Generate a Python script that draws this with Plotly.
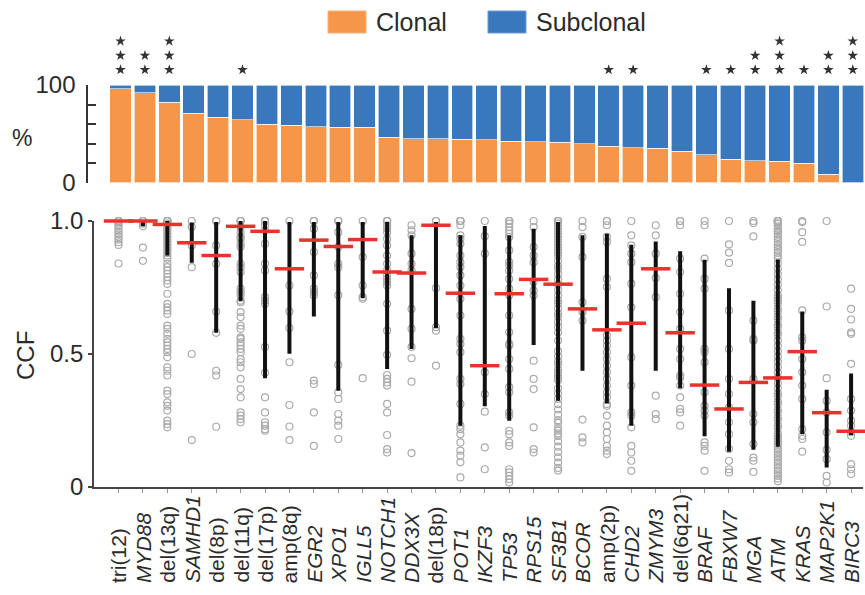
import plotly.graph_objects as go

# ---------------- data ----------------
categories = ["tri(12)", "MYD88", "del(13q)", "SAMHD1", "del(8p)", "del(11q)", "del(17p)",
              "amp(8q)", "EGR2", "XPO1", "IGLL5", "NOTCH1", "DDX3X", "del(18p)", "POT1",
              "IKZF3", "TP53", "RPS15", "SF3B1", "BCOR", "amp(2p)", "CHD2", "ZMYM3",
              "del(6q21)", "BRAF", "FBXW7", "MGA", "ATM", "KRAS", "MAP2K1", "BIRC3"]
is_gene = [False, True, False, True, False, False, False, False, True, True, True, True, True,
           False, True, True, True, True, True, True, False, True, True, False, True, True,
           True, True, True, True, True]
clonal_pct = [96, 92, 82.5, 71, 67, 64.6, 60, 58.6, 57, 56.6, 56.6, 46.5, 45, 45, 44.4,
              43.8, 42.4, 42, 41.4, 40, 37, 35.7, 35, 32, 28.6, 23.6, 22.2, 21.9, 19.9, 8.4, 0]
n_stars = [3, 2, 3, 0, 0, 1, 0, 0, 0, 0, 0, 0, 0, 0, 0, 0, 0, 0, 0, 0, 1, 1, 0, 0, 1, 1,
           2, 3, 1, 2, 3]

ccf_median = [1.0, 1.0, 0.987, 0.918, 0.87, 0.98, 0.961, 0.82, 0.928, 0.904, 0.93, 0.808,
              0.804, 0.984, 0.728, 0.455, 0.726, 0.78, 0.762, 0.669, 0.59, 0.615, 0.82,
              0.579, 0.382, 0.292, 0.392, 0.409, 0.508, 0.278, 0.208]
ccf_high = [1.0, 1.0, 1.0, 0.994, 0.996, 1.0, 1.0, 0.996, 0.996, 0.996, 0.996, 0.996, 0.946,
            0.996, 0.946, 0.981, 0.946, 0.971, 0.996, 0.946, 0.952, 0.911, 0.923, 0.886,
            0.854, 0.747, 0.70, 0.855, 0.659, 0.364, 0.426]
ccf_low = [1.0, 0.98, 0.87, 0.843, 0.579, 0.698, 0.408, 0.50, 0.64, 0.361, 0.709, 0.443,
           0.518, 0.596, 0.229, 0.302, 0.248, 0.533, 0.323, 0.436, 0.313, 0.229, 0.436,
           0.37, 0.189, 0.131, 0.138, 0.15, 0.197, 0.072, 0.194]

pts_tri12 = [1, 1, 1, 1, 1, 0.99, 0.98, 0.97, 0.96, 0.95, 0.94, 0.93, 0.92, 0.91, 0.84]
pts_myd88 = [1, 1, 1, 0.99, 0.98, 0.90, 0.85]
pts_del13q = [1, 1, 1, 1, 1, 1, 0.99, 0.98, 0.97, 0.96, 0.95, 0.94, 0.93, 0.92, 0.91, 0.90,
              0.89, 0.88, 0.87, 0.858, 0.839, 0.826, 0.814, 0.801, 0.789, 0.776, 0.763,
              0.726, 0.688, 0.675, 0.663, 0.65, 0.606, 0.594, 0.575, 0.556, 0.543, 0.531,
              0.518, 0.506, 0.487, 0.449, 0.436, 0.418, 0.361, 0.348, 0.317, 0.304, 0.286,
              0.248, 0.235, 0.223]
pts_samhd1 = [1.0, 0.977, 0.908, 0.826, 0.499, 0.175]
pts_del8p = [1.0, 1.0, 0.908, 0.839, 0.659, 0.579, 0.436, 0.418, 0.225]
pts_del11q = [1, 1, 1, 0.977, 0.958, 0.94, 0.933, 0.914, 0.902, 0.839, 0.826, 0.808, 0.745,
              0.732, 0.72, 0.70, 0.694, 0.657, 0.638, 0.606, 0.594, 0.562, 0.556, 0.543,
              0.531, 0.518, 0.506, 0.48, 0.468, 0.449, 0.405, 0.367, 0.336, 0.279, 0.267,
              0.254, 0.242]
pts_del17p = [1, 1, 1, 0.984, 0.965, 0.914, 0.839, 0.814, 0.713, 0.70, 0.688, 0.525, 0.428,
              0.336, 0.279, 0.242, 0.229, 0.216, 0.21]
pts_amp8q = [1.0, 0.757, 0.659, 0.597, 0.468, 0.307, 0.226, 0.175]
pts_egr2 = [1, 1, 0.971, 0.883, 0.795, 0.745, 0.732, 0.72, 0.399, 0.386, 0.279, 0.153]
pts_xpo1 = [1, 1, 0.958, 0.902, 0.839, 0.826, 0.72, 0.458, 0.355, 0.33, 0.273, 0.248, 0.229,
            0.179]
pts_igll5 = [1.0, 0.864, 0.757, 0.713, 0.707, 0.408]
pts_notch1 = [1, 1, 1, 0.984, 0.971, 0.958, 0.933, 0.908, 0.87, 0.839, 0.814, 0.795, 0.782,
              0.77, 0.757, 0.688, 0.587, 0.496, 0.42, 0.405, 0.392, 0.38, 0.311, 0.279, 0.194,
              0.141, 0.128]
pts_ddx3x = [0.984, 0.965, 0.946, 0.877, 0.839, 0.814, 0.669, 0.594, 0.525, 0.483, 0.395,
             0.126]
pts_del18p = [1, 1, 0.747, 0.60, 0.587, 0.455]
pts_pot1 = [1, 1, 1, 1, 0.984, 0.946, 0.933, 0.914, 0.87, 0.845, 0.826, 0.795, 0.757, 0.707,
            0.644, 0.556, 0.537, 0.506, 0.405, 0.386, 0.311, 0.229, 0.216, 0.197, 0.166,
            0.135, 0.116, 0.091, 0.034]
pts_ikzf3 = [1.0, 0.943, 0.877, 0.43, 0.348, 0.282, 0.147, 0.065]
pts_tp53 = [1, 1, 1, 0.99, 0.977, 0.965, 0.952, 0.94, 0.889, 0.845, 0.833, 0.814, 0.782,
            0.745, 0.72, 0.644, 0.581, 0.537, 0.531, 0.48, 0.443, 0.374, 0.355, 0.279, 0.267,
            0.21, 0.197, 0.166, 0.153, 0.065, 0.053, 0.04, 0.028, 0.015]
pts_rps15 = [1.0, 0.977, 0.902, 0.87, 0.845, 0.77, 0.738, 0.72, 0.474, 0.405, 0.367, 0.223,
             0.141, 0.128]
pts_sf3b1 = [1, 1, 1, 1, 0.99, 0.98, 0.97, 0.96, 0.95, 0.94, 0.93, 0.92, 0.91, 0.90, 0.89,
             0.88, 0.87, 0.85, 0.83, 0.82, 0.80, 0.78, 0.76, 0.74, 0.72, 0.70, 0.69, 0.67,
             0.65, 0.64, 0.62, 0.60, 0.58, 0.55, 0.51, 0.49, 0.47, 0.46, 0.44, 0.43, 0.42,
             0.41, 0.40, 0.37, 0.35, 0.33, 0.31, 0.29, 0.27, 0.25, 0.24, 0.22, 0.21, 0.20,
             0.19, 0.17, 0.15, 0.13, 0.11, 0.09, 0.07, 0.06]
pts_bcor = [1.0, 0.977, 0.94, 0.864, 0.694, 0.657, 0.625, 0.252, 0.185, 0.166]
pts_amp2p = [1, 1, 0.984, 0.94, 0.921, 0.782, 0.751, 0.569, 0.55, 0.531, 0.506, 0.48, 0.455,
             0.43, 0.405, 0.38, 0.355, 0.336, 0.311, 0.304, 0.267, 0.229, 0.204, 0.179, 0.153,
             0.135, 0.122]
pts_chd2 = [1.0, 0.946, 0.908, 0.877, 0.845, 0.764, 0.675, 0.487, 0.38, 0.279, 0.267, 0.223,
            0.153, 0.128, 0.097, 0.059]
pts_zmym3 = [0.984, 0.946, 0.877, 0.785, 0.713, 0.342, 0.273, 0.254]
pts_del6q21 = [1, 1, 0.984, 0.858, 0.808, 0.726, 0.657, 0.594, 0.518, 0.48, 0.418, 0.41,
               0.38, 0.336, 0.292, 0.279, 0.229]
pts_braf = [1.0, 0.984, 0.858, 0.782, 0.745, 0.518, 0.506, 0.468, 0.355, 0.304, 0.286, 0.267,
            0.166, 0.153, 0.135, 0.059]
pts_fbxw7 = [1.0, 0.912, 0.881, 0.842, 0.663, 0.518, 0.405, 0.348, 0.298, 0.242, 0.197,
             0.141, 0.097, 0.065, 0.053]
pts_mga = [1.0, 0.992, 0.942, 0.625, 0.556, 0.55, 0.405, 0.273, 0.242, 0.16, 0.109, 0.097,
           0.055]
pts_atm = [1, 1, 1, 1, 1, 0.99, 0.99, 0.98, 0.97, 0.96, 0.96, 0.95, 0.94, 0.93, 0.92, 0.91,
           0.90, 0.89, 0.88, 0.87, 0.86, 0.84, 0.82, 0.80, 0.78, 0.76, 0.74, 0.72, 0.71, 0.70,
           0.69, 0.67, 0.66, 0.64, 0.63, 0.61, 0.60, 0.58, 0.57, 0.55, 0.53, 0.51, 0.49, 0.47,
           0.45, 0.43, 0.41, 0.39, 0.37, 0.35, 0.34, 0.32, 0.31, 0.29, 0.28, 0.26, 0.25, 0.23,
           0.22, 0.20, 0.19, 0.18, 0.17, 0.16, 0.15, 0.14, 0.13, 0.12, 0.11, 0.10, 0.09, 0.08,
           0.07, 0.06, 0.05, 0.04, 0.03, 0.02]
pts_kras = [1.0, 0.996, 0.958, 0.921, 0.663, 0.562, 0.55, 0.48, 0.43, 0.38, 0.33, 0.216,
            0.191, 0.179, 0.131]
pts_map2k1 = [1.0, 0.678, 0.408, 0.323, 0.279, 0.204, 0.138, 0.103, 0.04, 0.015]
pts_birc3 = [0.745, 0.669, 0.629, 0.581, 0.575, 0.462, 0.33, 0.286, 0.248, 0.229, 0.204,
             0.191, 0.084, 0.065, 0.047]

ccf_points = [pts_tri12, pts_myd88, pts_del13q, pts_samhd1, pts_del8p, pts_del11q, pts_del17p,
              pts_amp8q, pts_egr2, pts_xpo1, pts_igll5, pts_notch1, pts_ddx3x, pts_del18p,
              pts_pot1, pts_ikzf3, pts_tp53, pts_rps15, pts_sf3b1, pts_bcor, pts_amp2p,
              pts_chd2, pts_zmym3, pts_del6q21, pts_braf, pts_fbxw7, pts_mga, pts_atm,
              pts_kras, pts_map2k1, pts_birc3]

# ---------------- styling ----------------
W, H = 865, 595
FONT = "Liberation Sans, Arial, Helvetica, sans-serif"
TXT = "#2b2b2b"
ORANGE = "#F5964A"
BLUE = "#3A78BD"
idx = list(range(len(categories)))

def py(px):  # pixel from top -> paper fraction
    return 1 - px / H

fig = go.Figure()

# top stacked bars
subclonal_pct = [100 - c for c in clonal_pct]
fig.add_trace(go.Bar(x=idx, y=clonal_pct, marker=dict(color=ORANGE, line=dict(color="white", width=0.6)),
                     name="Clonal", xaxis="x", yaxis="y", showlegend=False))
fig.add_trace(go.Bar(x=idx, y=subclonal_pct, marker=dict(color=BLUE, line=dict(color="white", width=0.6)),
                     name="Subclonal", xaxis="x", yaxis="y", showlegend=False))

# significance stars (stack level k on a hidden overlay axis)
sx, sy = [], []
for i, n in enumerate(n_stars):
    for k in range(n):
        sx.append(i)
        sy.append(k)
fig.add_trace(go.Scatter(x=sx, y=sy, mode="markers", xaxis="x", yaxis="y3",
                         marker=dict(symbol="star", size=8, color="#333333"),
                         cliponaxis=False, showlegend=False, hoverinfo="skip"))

# CCF points
px_, py_ = [], []
for i, pts in enumerate(ccf_points):
    px_ += [i] * len(pts)
    py_ += pts
fig.add_trace(go.Scatter(x=px_, y=py_, mode="markers", xaxis="x2", yaxis="y2",
                         marker=dict(symbol="circle-open", size=7, color="#ababab",
                                     line=dict(width=1.2, color="#ababab")),
                         cliponaxis=False, showlegend=False, hoverinfo="skip"))

# black range lines
lx, ly = [], []
for i in idx:
    lx += [i, i, None]
    ly += [ccf_low[i], ccf_high[i], None]
fig.add_trace(go.Scatter(x=lx, y=ly, mode="lines", xaxis="x2", yaxis="y2",
                         line=dict(color="#111111", width=4), cliponaxis=False,
                         showlegend=False, hoverinfo="skip"))

# red medians
fig.add_trace(go.Scatter(x=idx, y=ccf_median, mode="markers", xaxis="x2", yaxis="y2",
                         marker=dict(symbol="line-ew", size=21,
                                     line=dict(color="#E8322D", width=3.5)),
                         cliponaxis=False, showlegend=False, hoverinfo="skip"))

# category labels (bottom aligned, rotated)
for i, c in enumerate(categories):
    t = f"<i>{c}</i>" if is_gene[i] else c
    fig.add_annotation(x=i, y=py(585), xref="x2", yref="paper", text=t, textangle=-90,
                       showarrow=False, xanchor="center", yanchor="bottom",
                       font=dict(family=FONT, size=21, color=TXT))

# manual legend
fig.add_shape(type="rect", xref="paper", yref="paper", x0=328 / W, x1=366 / W,
              y0=py(33), y1=py(11), fillcolor=ORANGE, line=dict(color="#f7b27a", width=1))
fig.add_shape(type="rect", xref="paper", yref="paper", x0=488 / W, x1=526 / W,
              y0=py(33), y1=py(11), fillcolor=BLUE, line=dict(color="#6d9bd0", width=1))
fig.add_annotation(x=374 / W, y=py(22), xref="paper", yref="paper", text="Clonal",
                   showarrow=False, xanchor="left", yanchor="middle",
                   font=dict(family=FONT, size=25, color=TXT))
fig.add_annotation(x=534 / W, y=py(22), xref="paper", yref="paper", text="Subclonal",
                   showarrow=False, xanchor="left", yanchor="middle",
                   font=dict(family=FONT, size=25, color=TXT))

# axis titles
fig.add_annotation(x=22 / W, y=py(138), xref="paper", yref="paper", text="%",
                   showarrow=False, xanchor="center", yanchor="middle",
                   font=dict(family=FONT, size=23, color=TXT))
fig.add_annotation(x=25 / W, y=py(356), xref="paper", yref="paper", text="CCF",
                   textangle=-90, showarrow=False, xanchor="center", yanchor="middle",
                   font=dict(family=FONT, size=24, color=TXT))

fig.update_layout(
    width=W, height=H, margin=dict(l=0, r=0, t=0, b=0, pad=0, autoexpand=False),
    paper_bgcolor="white", plot_bgcolor="white",
    barmode="stack", bargap=0.12,
    font=dict(family=FONT, size=23, color=TXT),
    xaxis=dict(domain=[108.3 / W, 1.0], range=[-0.5, 30.5], showline=False,
               showgrid=False, zeroline=False, showticklabels=False, ticks="",
               automargin=False),
    yaxis=dict(domain=[py(182.5), py(85)], range=[0, 100], anchor="free",
               position=87.3 / W, showgrid=False, zeroline=False, automargin=False,
               showline=True, linecolor="#333333", linewidth=2,
               ticks="inside", ticklen=8, tickwidth=2, tickcolor="#333333",
               tickvals=[0, 20, 40, 60, 80, 100], ticktext=["0", "", "", "", "", "100"],
               ticklabelstandoff=6, tickfont=dict(family=FONT, size=24, color=TXT)),
    yaxis3=dict(domain=[py(77), py(34)], range=[-0.5, 2.5], anchor="x", overlaying=None,
                visible=False, automargin=False),
    xaxis2=dict(domain=[94.08 / W, 863.3 / W], range=[-1, 30.5], anchor="y2",
                showline=True, linecolor="#444444", linewidth=2, showgrid=False,
                zeroline=False, ticks="outside", ticklen=4, tickwidth=1, tickcolor="#999999",
                tickvals=idx, showticklabels=False, automargin=False),
    yaxis2=dict(domain=[py(486.5), py(221)], range=[0, 1], anchor="x2", automargin=False,
                showline=True, linecolor="#444444", linewidth=2, showgrid=False,
                zeroline=False, ticks="outside", ticklen=4, tickwidth=2, tickcolor="#444444",
                tickvals=[0, 0.5, 1.0], ticktext=["0", "0.5", "1.0"],
                tickfont=dict(family=FONT, size=24, color=TXT)),
)

fig.write_html("out.html")
